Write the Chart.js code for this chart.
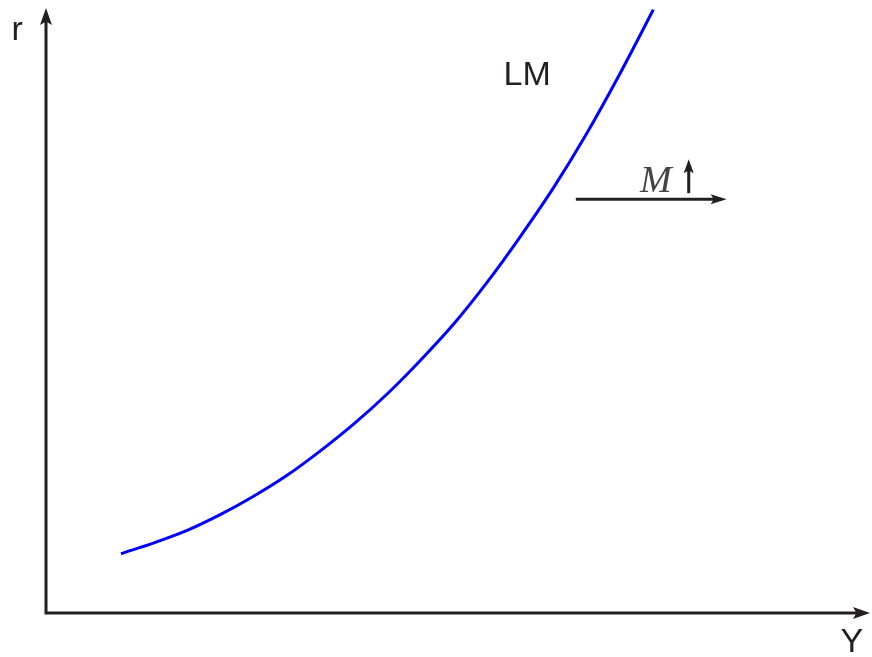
<!DOCTYPE html>
<html>
<head>
<meta charset="utf-8">
<script src="https://cdn.jsdelivr.net/npm/chart.js@4"></script>
<style>
  html, body { margin: 0; padding: 0; background: #fff; }
  #wrap { width: 872px; height: 657px; }
</style>
</head>
<body>
<div id="wrap"><canvas id="lmChart" width="872" height="657"></canvas></div>
<script>
// LM curve: output Y against interest rate r (arbitrary units 0..10)
const incomeY = [0.91, 1.31, 1.72, 2.12, 2.52, 2.93, 3.33, 3.74, 4.14, 4.54, 4.95, 5.35, 5.75, 6.16, 6.56, 6.96, 7.37];
const rateR   = [0.98, 1.16, 1.37, 1.63, 1.93, 2.28, 2.68, 3.13, 3.62, 4.17, 4.78, 5.46, 6.21, 7.03, 7.92, 8.90, 9.97];

const axisMax = { x: 10, y: 10 };
const curveLabel = "LM";
const axisLabels = { x: "Y", y: "r" };
const shiftLabel = "M";

const ink = "#231f20";

function arrowHead(ctx, x, y, angle, len, half) {
  ctx.save();
  ctx.translate(x, y);
  ctx.rotate(angle);
  ctx.beginPath();
  ctx.moveTo(0, 0);
  ctx.lineTo(-len, -half);
  ctx.lineTo(-len * 0.8, 0);
  ctx.lineTo(-len, half);
  ctx.closePath();
  ctx.fill();
  ctx.restore();
}

// axes with arrows + text annotations
const diagramPlugin = {
  id: "diagram",
  beforeDatasetsDraw(chart) {
    const { ctx, scales: { x, y } } = chart;
    const x0 = x.getPixelForValue(0), y0 = y.getPixelForValue(0);
    const xEnd = x.getPixelForValue(axisMax.x), yEnd = y.getPixelForValue(axisMax.y);
    ctx.save();
    ctx.strokeStyle = ink;
    ctx.fillStyle = ink;
    ctx.lineWidth = 3;
    ctx.beginPath();
    ctx.moveTo(x0, y0 + 1.5);
    ctx.lineTo(x0, yEnd + 10);
    ctx.moveTo(x0 - 1.5, y0);
    ctx.lineTo(xEnd - 10, y0);
    ctx.stroke();
    arrowHead(ctx, x0, yEnd, -Math.PI / 2, 17, 6);
    arrowHead(ctx, xEnd, y0, 0, 17, 6);
    ctx.restore();
  },
  afterDatasetsDraw(chart) {
    const { ctx, scales: { x, y } } = chart;
    ctx.save();
    ctx.fillStyle = ink;
    ctx.strokeStyle = ink;
    ctx.textAlign = "center";
    ctx.textBaseline = "alphabetic";

    ctx.font = '34px "Liberation Sans", Arial, sans-serif';
    ctx.fillText(axisLabels.y, x.getPixelForValue(-0.35), y.getPixelForValue(9.47));
    ctx.fillText(axisLabels.x, x.getPixelForValue(9.78), y.getPixelForValue(-0.64));
    ctx.fillText(curveLabel, x.getPixelForValue(5.84), y.getPixelForValue(8.73));

    ctx.fillStyle = "#444";
    ctx.font = 'italic 38px "Liberation Serif", "DejaVu Serif", serif';
    ctx.fillText(shiftLabel, x.getPixelForValue(7.40), y.getPixelForValue(6.96));

    // small "increase" arrow next to M
    ctx.fillStyle = ink;
    ctx.lineWidth = 3;
    const ax = x.getPixelForValue(7.80);
    ctx.beginPath();
    ctx.moveTo(ax, y.getPixelForValue(6.94));
    ctx.lineTo(ax, y.getPixelForValue(7.40));
    ctx.stroke();
    arrowHead(ctx, ax, y.getPixelForValue(7.50), -Math.PI / 2, 14, 5);

    // shift arrow
    const hy = y.getPixelForValue(6.84);
    ctx.beginPath();
    ctx.moveTo(x.getPixelForValue(6.43), hy);
    ctx.lineTo(x.getPixelForValue(8.26) - 8, hy);
    ctx.stroke();
    arrowHead(ctx, x.getPixelForValue(8.26), hy, 0, 16, 5);
    ctx.restore();
  }
};

new Chart(document.getElementById("lmChart").getContext("2d"), {
  type: "line",
  data: {
    datasets: [{
      label: curveLabel,
      data: incomeY.map((v, i) => ({ x: v, y: rateR[i] })),
      borderColor: "#0000ff",
      borderWidth: 3,
      pointRadius: 0,
      fill: false,
      cubicInterpolationMode: "monotone"
    }]
  },
  options: {
    responsive: false,
    animation: false,
    events: [],
    layout: { padding: { left: 46, right: 2, top: 8, bottom: 44 } },
    scales: {
      x: { type: "linear", min: 0, max: axisMax.x, display: false },
      y: { type: "linear", min: 0, max: axisMax.y, display: false }
    },
    plugins: {
      legend: { display: false },
      tooltip: { enabled: false }
    }
  },
  plugins: [diagramPlugin]
});
</script>
</body>
</html>
